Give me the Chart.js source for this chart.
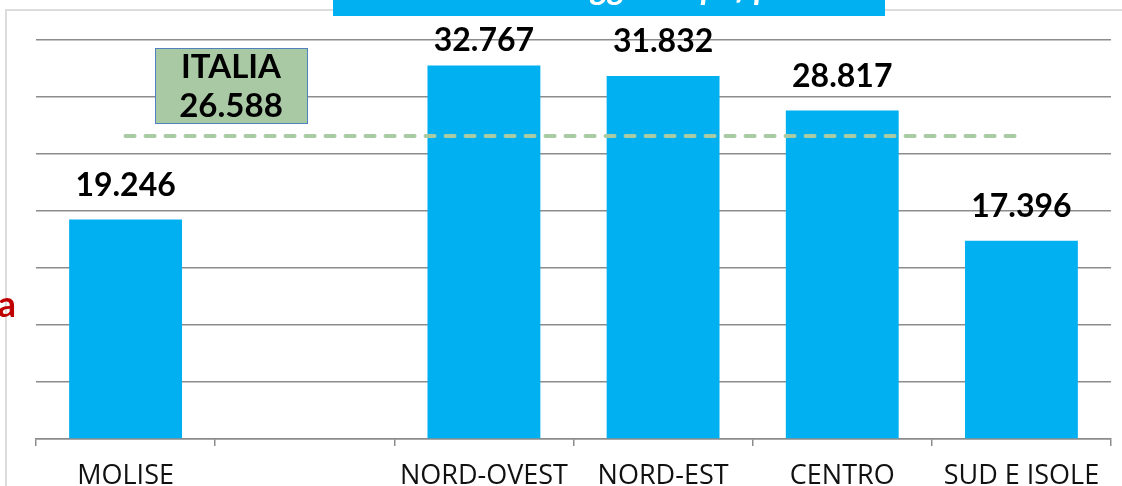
<!DOCTYPE html>
<html>
<head>
<meta charset="utf-8">
<script src="https://cdn.jsdelivr.net/npm/chart.js@4.4.1/dist/chart.umd.min.js"></script>
<style>
  html, body { margin: 0; padding: 0; background: #fff; }
  #wrap { position: relative; width: 1122px; height: 486px; }
</style>
</head>
<body>
<div id="wrap"><canvas id="chart" width="1122" height="486"></canvas></div>
<script>
        // Reddito medio per area
        const areas = ['MOLISE', '', 'NORD-OVEST', 'NORD-EST', 'CENTRO', 'SUD E ISOLE'];
        const reddito = [19246, null, 32767, 31832, 28817, 17396];
        const italia = [26588, 26588, 26588, 26588, 26588, 26588];
        const italiaLabel = ['ITALIA', '26.588'];
        const yMax = 35000;
        const yStep = 5000;

        function fmt(v) {
            return String(v).replace(/\B(?=(\d{3})+(?!\d))/g, '.');
        }

        // Frame, title strip and cut-off text around the plot
        const decorations = {
            id: 'decorations',
            beforeDraw(chart) {
                const ctx = chart.ctx;
                ctx.save();
                ctx.strokeStyle = '#dcdcdc';
                ctx.lineWidth = 2;
                ctx.beginPath();
                ctx.moveTo(6, 486);
                ctx.lineTo(6, 10);
                ctx.lineTo(1122, 10);
                ctx.stroke();

                ctx.fillStyle = '#00B0F0';
                ctx.fillRect(333, 0, 552, 16);
                ctx.beginPath();
                ctx.rect(333, 0, 552, 16);
                ctx.clip();
                ctx.fillStyle = '#fff';
                ctx.font = 'italic bold 34px Lato';
                ctx.textAlign = 'center';
                ctx.textBaseline = 'alphabetic';
                ctx.fillText('Reddito medio soggetti Irpef per area', 609, -1);
                ctx.restore();

                ctx.save();
                ctx.fillStyle = '#C00000';
                ctx.font = 'bold 36px Lato';
                ctx.textAlign = 'right';
                ctx.textBaseline = 'alphabetic';
                ctx.fillText('a', 16, 317);
                ctx.restore();
            },
            afterDatasetsDraw(chart) {
                const ctx = chart.ctx;
                const meta = chart.getDatasetMeta(0);
                ctx.save();
                ctx.fillStyle = '#000';
                ctx.font = 'bold 32px Lato';
                ctx.textAlign = 'center';
                ctx.textBaseline = 'bottom';
                meta.data.forEach((bar, i) => {
                    if (reddito[i] == null) return;
                    const y = Math.max(bar.y - 18, 57);
                    ctx.fillText(fmt(reddito[i]), bar.x, y);
                });

                // ITALIA box
                ctx.fillStyle = '#A9C8A4';
                ctx.fillRect(155, 48, 152, 75);
                ctx.strokeStyle = '#4F81BD';
                ctx.lineWidth = 1;
                ctx.strokeRect(155.5, 48.5, 152, 75);
                ctx.fillStyle = '#000';
                ctx.font = 'bold 33px Lato';
                ctx.textBaseline = 'alphabetic';
                ctx.fillText(italiaLabel[0], 231, 78);
                ctx.fillText(italiaLabel[1], 231, 117);
                ctx.restore();
            }
        };

        const ctx = document.getElementById('chart').getContext('2d');
        new Chart(ctx, {
            type: 'bar',
            data: {
                labels: areas,
                datasets: [
                    {
                        label: 'Reddito',
                        data: reddito,
                        backgroundColor: '#00B0F0',
                        categoryPercentage: 1,
                        barPercentage: 0.63,
                        order: 2
                    },
                    {
                        type: 'line',
                        label: 'Italia',
                        data: italia,
                        borderColor: '#A8CBA3',
                        borderWidth: 4,
                        borderDash: [9, 11],
                        borderCapStyle: 'round',
                        pointRadius: 0,
                        fill: false,
                        order: 1
                    }
                ]
            },
            options: {
                responsive: false,
                animation: false,
                layout: { padding: { left: 36, right: 11, top: 40, bottom: 0 } },
                plugins: {
                    legend: { display: false },
                    tooltip: { enabled: false },
                    title: { display: false }
                },
                scales: {
                    x: {
                        offset: true,
                        grid: {
                            offset: true,
                            drawOnChartArea: false,
                            drawTicks: true,
                            tickLength: 7,
                            color: '#8c8c8c',
                            lineWidth: 1.5
                        },
                        border: { color: '#8c8c8c', width: 1.5 },
                        ticks: {
                            color: '#111',
                            padding: 14,
                            maxRotation: 0,
                            autoSkip: false,
                            font: { family: 'Open Sans', size: 27 }
                        },
                        afterFit(scale) { scale.height = 47; }
                    },
                    y: {
                        min: 0,
                        max: yMax,
                        ticks: { stepSize: yStep, display: false },
                        grid: { color: '#8c8c8c', lineWidth: 1.5, drawTicks: false },
                        border: { display: false },
                        afterFit(scale) { scale.width = 0; }
                    }
                }
            },
            plugins: [decorations]
        });
</script>
</body>
</html>
